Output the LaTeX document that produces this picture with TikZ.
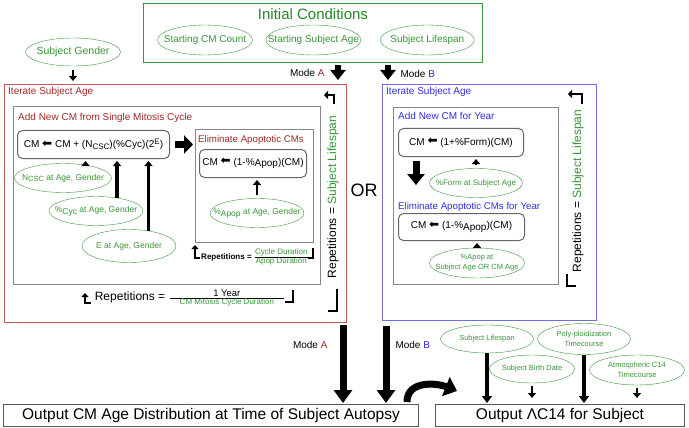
\documentclass[tikz,border=0pt]{standalone}
\usepackage{fontspec}
\setmainfont{Liberation Sans}
\newfontfamily\symfont{DejaVu Sans}
\usepackage{tikz}
\usetikzlibrary{arrows.meta, positioning, shapes.geometric}

\definecolor{grn}{RGB}{55,150,55}
\definecolor{dgrn}{RGB}{35,135,35}
\definecolor{dred}{RGB}{160,40,40}
\definecolor{rline}{RGB}{195,90,90}
\definecolor{blu}{RGB}{45,45,230}
\definecolor{bline}{RGB}{110,110,225}
\definecolor{gline}{RGB}{135,135,135}

\newcommand\fs[1]{\fontsize{#1}{#1}\selectfont}
\newcommand\lowr[1]{\raisebox{-1.8pt}{#1}}
\newcommand\larr{\raisebox{0.5pt}{\symfont\fs{12}⬅}}

\begin{document}
\begin{tikzpicture}[x=1pt, y=-1pt,
            ell/.style={ellipse, draw=grn, text=grn, inner xsep=-50pt, inner ysep=0pt, minimum width=94pt, minimum height=29pt, align=center, font=\fs{8.5}},
            panel/.style={draw=gline, line width=1.1pt, inner sep=0pt, anchor=north west},
            eqbox/.style={draw=black!60, line width=1pt, rounded corners=5pt, inner sep=0pt, anchor=north west, font=\fs{10}},
            head/.style={anchor=north west, inner sep=0pt, font=\fs{10}},
            bigarr/.style={line width=6pt, -{Triangle[length=10pt, width=15pt]}},
            midarr/.style={line width=4pt, -{Triangle[length=7pt, width=10pt]}},
            smallarr/.style={line width=2.5pt, -{Triangle[length=5pt, width=8pt]}},
            brk/.style={line width=2.5pt}]
            \useasboundingbox (0,0) rectangle (689,428);

            \node[panel, draw=grn, line width=1.2pt, minimum width=339pt, minimum height=59pt] (ic) at (143,3) {};
            \node[font=\fs{15}, text=dgrn] (ict) at (313,14) {Initial Conditions};
            \node[ell, font=\fs{10}, minimum width=95pt, minimum height=30pt] (scm) at (205,40) {Starting CM Count};
            \node[ell, font=\fs{10}, minimum width=95pt, minimum height=30pt, right=13pt of scm] (ssa) {Starting Subject Age};
            \node[ell, font=\fs{10}, minimum width=94pt, minimum height=30pt, right=19pt of ssa] (lsp) {Subject Lifespan};
            \node[ell, font=\fs{10.5}, minimum width=95pt, minimum height=28pt] (sg) at (73,52) {Subject Gender};

            \node[panel, draw=rline, line width=1pt, minimum width=342pt, minimum height=238pt] (itA) at (4,84) {};
            \node[head, text=dred] (itAt) at (8,87) {Iterate Subject Age};
            \node[panel, minimum width=307pt, minimum height=178pt] (mitA) at (13,106) {};
            \node[head, text=dred] (mitAt) at (18,113) {Add New CM from Single Mitosis Cycle};
            \node[eqbox, minimum width=152pt, minimum height=28pt] (eqA) at (17,130) {CM \larr{} CM + (N\lowr{\fs{8}CSC})(\%Cyc)(2\raisebox{3.5pt}{\fs{8}E})};
            \node[panel, minimum width=118pt, minimum height=113pt] (elA) at (195,129) {};
            \node[head, font=\fs{9.7}, text=dred] (elAt) at (198,135) {Eliminate Apoptotic CMs};
            \node[eqbox, minimum width=107pt, minimum height=28pt] (eqE) at (199,149) {CM \larr{} (1-\%\lowr{Apop})(CM)};
            \node[ell] (pap) at (257,213) {\%\lowr{Apop} at Age, Gender};
            \node[ell, minimum width=97pt] (ncs) at (63,178) {N\lowr{\fs{7.5}CSC} at Age, Gender};
            \node[ell] (pcy) at (96,211) {\%\lowr{Cyc} at Age, Gender};
            \node[ell, minimum height=33pt] (eag) at (129,246) {E at Age, Gender};
            \node[font=\fs{8}] (repE) at (255,257) {\textbf{Repetitions =} $\frac{\mbox{\textcolor{grn}{Cycle Duration}}}{\mbox{\textcolor{grn}{Apop Duration}}}$};
            \node[font=\fs{12}] (repM) at (190,298) {Repetitions = $\frac{\mbox{\fs{9.5}1 Year}}{\mbox{\fs{8}\textcolor{grn}{\hspace{10pt}CM Mitosis Cycle Duration\hspace{10pt}}}}$};
            \node[rotate=90, font=\fs{12}] (repA) at (333,197) {Repetitions = \textcolor{grn}{Subject Lifespan}};
            \node[font=\fs{18}] (or) at (364,190) {OR};

            \node[panel, draw=bline, line width=1pt, minimum width=214pt, minimum height=236pt] (itB) at (382,84) {};
            \node[head, text=blu] (itBt) at (386,87) {Iterate Subject Age};
            \node[panel, minimum width=165pt, minimum height=177pt] (mitB) at (393,107) {};
            \node[head, text=blu] (mitBt) at (398,112) {Add New CM for Year};
            \node[eqbox, minimum width=125pt, minimum height=28pt] (eqF) at (398,128) {CM \larr{} (1+\%Form)(CM)};
            \node[ell, font=\fs{8}, minimum width=93pt] (pfm) at (476,183) {\%Form at Subject Age};
            \node[head, font=\fs{9.7}, text=blu] (elBt) at (398,202) {Eliminate Apoptotic CMs for Year};
            \node[eqbox, minimum width=126pt, minimum height=27pt] (eqB) at (398,213) {CM \larr{} (1-\%\lowr{Apop})(CM)};
            \node[ell, font=\fontsize{7.5}{10}\selectfont, minimum width=95pt, minimum height=30pt] (pab) at (477,263) {\%Apop at\\Subject Age OR CM Age};
            \node[rotate=90, font=\fs{12}] (repB) at (578,191) {Repetitions = \textcolor{grn}{Subject Lifespan}};

            \node[panel, draw=black!65, line width=1pt, minimum width=415pt, minimum height=22pt, font=\fs{15.5}] (outA) at (3,404) {Output CM Age Distribution at Time of Subject Autopsy};
            \node[panel, draw=black!65, line width=1pt, minimum width=249pt, minimum height=22pt, font=\fs{15.5}] (outB) at (435,404) {Output ΛC14 for Subject};
            \node[ell, font=\fs{7.5}, minimum width=93pt, minimum height=28pt] (slf) at (487,339) {Subject Lifespan};
            \node[ell, font=\fontsize{7.5}{10}\selectfont, minimum width=93pt, minimum height=31pt] (ppt) at (584,339) {Poly-ploidization\\Timecourse};
            \node[ell, font=\fs{7.5}, minimum width=85pt, minimum height=28pt] (sbd) at (532,369) {Subject Birth Date};
            \node[ell, font=\fontsize{7.5}{10}\selectfont, minimum width=95pt, minimum height=30pt] (atc) at (637,370) {Atmospheric C14\\Timecourse};

            \coordinate (tA) at ([xshift=-9pt]itA.north east);
            \coordinate (tB) at ([xshift=6pt]itB.north west);
            \coordinate (bA) at ([xshift=-4pt]itA.south east);
            \coordinate (bB) at ([xshift=4pt]itB.south west);
            \coordinate (dF) at ([xshift=18pt]eqF.south west);

            \draw[bigarr, shorten <=2pt, shorten >=4pt] (tA |- ic.south) -- (tA);
            \draw[bigarr, shorten <=2pt, shorten >=4pt] (tB |- ic.south) -- (tB);
            \node[anchor=east, font=\fs{10}] (mA) at (328,73) {Mode \textcolor{dred}{A}};
            \node[anchor=west, font=\fs{10}] (mB) at (397,74) {Mode \textcolor{blu}{B}};
            \draw[smallarr, shorten <=4pt, shorten >=3pt] (sg) -- (sg |- itA.north);

            \draw[bigarr, line width=7pt, -{Triangle[length=9pt, width=18pt]}, shorten <=5pt, shorten >=2pt] (eqA.east) -- (eqA.east -| elA.west);
            \draw[smallarr, shorten >=2pt] (ncs.30) -- (ncs.30 |- eqA.south);
            \draw[smallarr, line width=3.5pt, shorten >=2pt] (pcy.32) -- (pcy.32 |- eqA.south);
            \draw[smallarr, line width=3.5pt, shorten >=2pt] (eag.38) -- (eag.38 |- eqA.south);
            \draw[smallarr, shorten <=3pt, shorten >=2pt] (pap) -- (pap |- eqE.south);
            \draw[smallarr, shorten <=3pt, shorten >=2pt] (pfm) -- (pfm |- eqF.south);
            \draw[bigarr, line width=7pt, -{Triangle[length=11pt, width=17pt]}, shorten <=4pt, shorten >=17pt] (dF) -- (dF |- elBt.north);
            \draw[smallarr, shorten <=3pt, shorten >=2pt] (pab) -- (pab |- eqB.south);

            \draw[brk, -{Triangle[length=4pt, width=8pt]}] (334,104) -- (334,95) -- (324,95);
            \draw[brk] (328,311) -- (337,311) -- (337,289);
            \draw[brk, -{Triangle[length=4pt, width=8pt]}] (582,104) -- (582,94) -- (568,94);
            \draw[brk] (567,274) -- (567,286) -- (576,286);
            \draw[brk, -{Triangle[length=4pt, width=7pt]}] (200,258) -- (195,258) -- (195,245);
            \draw[brk] (313,248) -- (313,258) -- (308,258);
            \draw[brk, -{Triangle[length=4pt, width=7pt]}] (91,303) -- (85,303) -- (85,293);
            \draw[brk] (293,290) -- (293,302) -- (285,302);

            \draw[bigarr, line width=7pt, -{Triangle[length=13pt, width=18pt]}, shorten <=2pt, shorten >=1pt] (bA) -- (bA |- outA.north);
            \draw[bigarr, line width=7pt, -{Triangle[length=13pt, width=18pt]}, shorten <=5pt, shorten >=1pt] (bB) -- (bB |- outA.north);
            \node[anchor=east, font=\fs{10}] (mA2) at (331,345) {Mode \textcolor{dred}{A}};
            \node[anchor=west, font=\fs{10}] (mB2) at (392,345) {Mode \textcolor{blu}{B}};
            \draw[line width=7pt, -{Triangle[length=12pt, width=20pt]}] ([xshift=-12pt, yshift=2pt]outA.north east) .. controls +(0,-22) and +(-20,-8) .. ([xshift=22pt, yshift=13pt]outB.north west);

            \draw[midarr, shorten >=1pt] (slf) -- (slf |- outB.north);
            \draw[midarr, shorten >=1pt] (ppt) -- (ppt |- outB.north);
            \draw[smallarr, shorten <=3pt, shorten >=6pt] (sbd) -- (sbd |- outB.north);
            \draw[smallarr, shorten <=3pt, shorten >=6pt] (atc) -- (atc |- outB.north);
\end{tikzpicture}
\end{document}
